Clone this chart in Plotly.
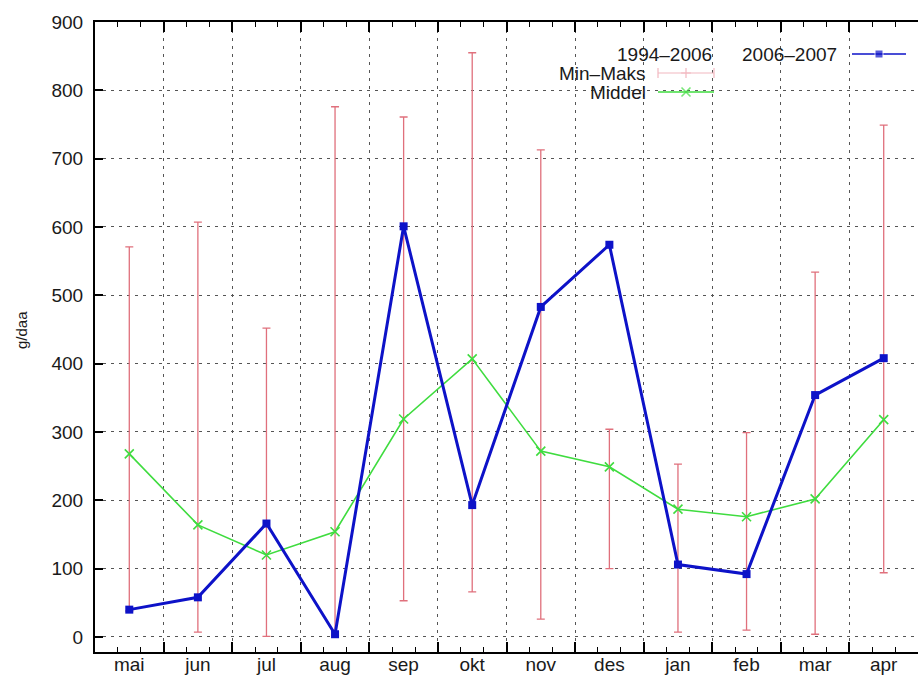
import plotly.graph_objects as go

# ---- data ----
months = ["mai", "jun", "jul", "aug", "sep", "okt", "nov", "des", "jan", "feb", "mar", "apr"]
season_0607 = [40, 58, 166, 4, 601, 193, 483, 574, 106, 92, 354, 408]
middel = [268, 164, 120, 154, 319, 407, 272, 249, 187, 176, 202, 318]
min_9406 = [38, 7, 1, 2, 53, 66, 26, 100, 7, 10, 4, 94]
max_9406 = [571, 607, 452, 776, 761, 855, 713, 304, 253, 299, 534, 749]
y_ticks = [0, 100, 200, 300, 400, 500, 600, 700, 800, 900]

RED = "#e0707c"
GREEN = "#3fdc3f"
BLUE = "#0d12c8"
FONT = "Liberation Sans, Arial, sans-serif"
FS = 19

x = list(range(1, len(months) + 1))
mid = [(a + b) / 2 for a, b in zip(min_9406, max_9406)]
half = [(b - a) / 2 for a, b in zip(min_9406, max_9406)]

fig = go.Figure()

# min-max error bars
fig.add_trace(go.Scatter(
    x=x, y=mid, mode="markers",
    marker=dict(size=1, opacity=0, color=RED),
    error_y=dict(type="data", array=half, symmetric=True, color=RED, thickness=1.3, width=4),
    showlegend=False, hoverinfo="skip"))

# Middel
fig.add_trace(go.Scatter(
    x=x, y=middel, mode="lines+markers",
    line=dict(color=GREEN, width=1.6),
    marker=dict(symbol="x-thin-open", size=9, line=dict(color=GREEN, width=1.6)),
    showlegend=False))

# 2006-2007
fig.add_trace(go.Scatter(
    x=x, y=season_0607, mode="lines+markers",
    line=dict(color=BLUE, width=3),
    marker=dict(symbol="square", size=8, color=BLUE),
    showlegend=False))

# dummy trace to keep the tick/grid axis alive
fig.add_trace(go.Scatter(x=[], y=[], xaxis="x2", yaxis="y", showlegend=False))

# ---- manual legend (gnuplot style: text left, sample right) ----
def px(v):
    return (v - 95) / 823.0

def py(v):
    return (652 - v) / 630.0

leg_y_top = py(54)
leg_y_mm = py(73)
leg_y_mid = py(92)

fig.add_trace(go.Scatter(
    x=[px(658), px(686), px(714)], y=[leg_y_mm] * 3, xaxis="x3", yaxis="y3",
    mode="lines+markers", line=dict(color="#f2b8c0", width=1.2),
    marker=dict(symbol=["line-ns-open", "cross-thin-open", "line-ns-open"], size=7,
                line=dict(color="#f2b8c0", width=1.2)),
    showlegend=False, hoverinfo="skip"))
fig.add_trace(go.Scatter(
    x=[px(658), px(686), px(714)], y=[leg_y_mid] * 3, xaxis="x3", yaxis="y3",
    mode="lines+markers", line=dict(color=GREEN, width=1.6),
    marker=dict(symbol=["circle", "x-thin-open", "circle"], size=[0, 9, 0],
                line=dict(color=GREEN, width=1.6)),
    showlegend=False, hoverinfo="skip"))
fig.add_trace(go.Scatter(
    x=[px(852), px(879), px(906)], y=[leg_y_top] * 3, xaxis="x3", yaxis="y3",
    mode="lines+markers", line=dict(color=BLUE, width=1.6),
    marker=dict(symbol=["circle", "square", "circle"], size=[0, 8, 0], color=BLUE),
    showlegend=False, hoverinfo="skip"))

shapes = [
    dict(type="rect", xref="paper", yref="paper", x0=px(545), x1=px(722), y0=py(102), y1=py(36),
         fillcolor="white", line=dict(width=0), layer="between"),
    dict(type="rect", xref="paper", yref="paper", x0=px(722), x1=1.0, y0=py(75), y1=py(36),
         fillcolor="white", line=dict(width=0), layer="between"),
]

ann_font = dict(family=FONT, size=FS, color="#1a1a1a")
annotations = [
    dict(text="1994\u20132006", xref="paper", yref="paper", x=px(714), y=leg_y_top,
         xanchor="right", yanchor="middle", showarrow=False, font=ann_font),
    dict(text="Min\u2013Maks", xref="paper", yref="paper", x=px(648), y=leg_y_mm,
         xanchor="right", yanchor="middle", showarrow=False, font=ann_font),
    dict(text="Middel", xref="paper", yref="paper", x=px(648), y=leg_y_mid,
         xanchor="right", yanchor="middle", showarrow=False, font=ann_font),
    dict(text="2006\u20132007", xref="paper", yref="paper", x=px(839), y=leg_y_top,
         xanchor="right", yanchor="middle", showarrow=False, font=ann_font),
    dict(text="g/daa", xref="paper", yref="paper", x=px(21), y=py(330),
         xanchor="center", yanchor="middle", textangle=-90, showarrow=False,
         font=dict(family=FONT, size=15, color="#1a1a1a")),
]

GRID = dict(showgrid=True, gridcolor="#555555", gridwidth=1, griddash="3px,5px")

fig.update_layout(
    width=918, height=675,
    margin=dict(l=95, r=0, t=22, b=23),
    paper_bgcolor="white", plot_bgcolor="white",
    font=dict(family=FONT, size=FS, color="#1a1a1a"),
    showlegend=False,
    shapes=shapes,
    annotations=annotations,
    xaxis=dict(range=[0.5, 12.5], tickmode="array", tickvals=x, ticktext=months,
               ticks="", showgrid=False, showline=True, linecolor="black", linewidth=2,
               mirror=True, zeroline=False, automargin=False, tickfont=dict(size=FS),
               ticklabelstandoff=-6),
    xaxis2=dict(range=[0.5, 12.5], overlaying="x", anchor="y", side="bottom",
                tickmode="linear", tick0=0.5, dtick=1, ticks="inside", ticklen=10,
                tickwidth=1.5, tickcolor="black", showticklabels=False, showline=False,
                mirror="allticks", zeroline=False,
                minor=dict(tick0=0.5, dtick=1 / 3, ticks="inside", ticklen=5,
                           tickwidth=1.2, tickcolor="black", showgrid=False),
                **GRID),
    yaxis=dict(range=[-22, 900], tickmode="array", tickvals=y_ticks,
               ticks="inside", ticklen=8, tickwidth=1.5, tickcolor="black",
               showline=True, linecolor="black", linewidth=2, mirror=False,
               zeroline=False, automargin=False, tickfont=dict(size=FS),
               ticklabelstandoff=6, **GRID),
    xaxis3=dict(overlaying="x", range=[0, 1], visible=False),
    yaxis3=dict(overlaying="y", range=[0, 1], visible=False),
)

fig.write_html(
    "out.html",
    config={"displayModeBar": False},
    post_script="document.body.style.margin='0';document.body.style.overflow='hidden';",
)
